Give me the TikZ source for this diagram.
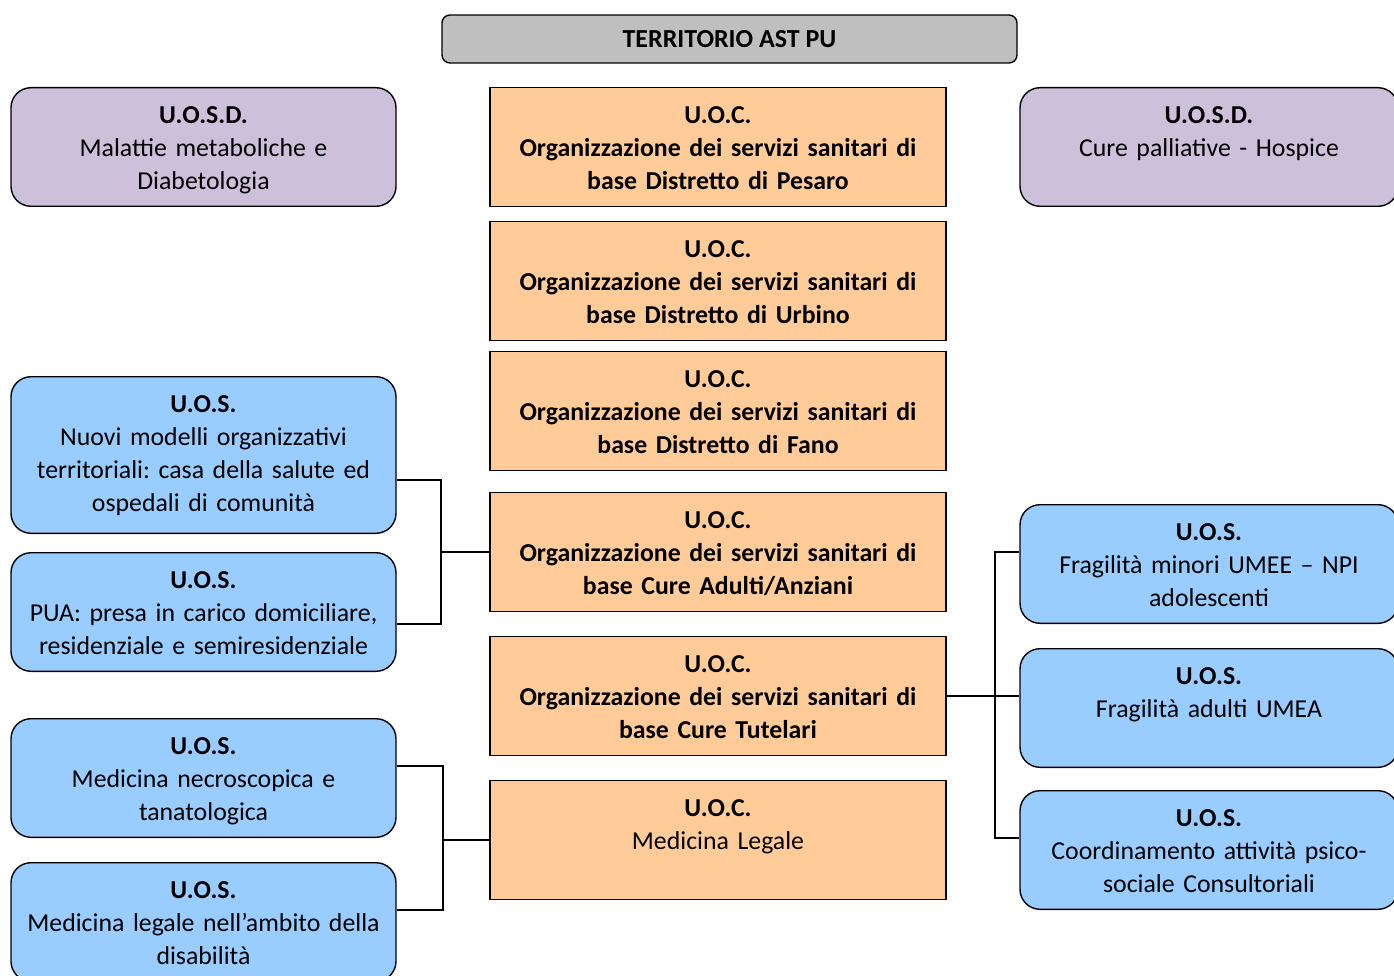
\documentclass[tikz,border=0pt]{standalone}
\usepackage{fontspec}
\setmainfont{Carlito}
\usetikzlibrary{positioning}
\definecolor{uocfill}{HTML}{FFCC99}
\definecolor{uosfill}{HTML}{99CCFF}
\definecolor{uosdfill}{HTML}{CCC0DA}
\definecolor{titlefill}{HTML}{BFBFBF}
\tikzstyle{unit}=[draw=black, line width=1.4pt, align=center, inner xsep=4pt, inner ysep=0pt, text height=36pt, text depth=82.6pt, font=\fontsize{25.8}{33}\selectfont]
\tikzstyle{uoc}=[unit, fill=uocfill, text width=448pt]
\tikzstyle{uos}=[unit, fill=uosfill, rounded corners=20pt, text width=377pt]
\tikzstyle{uosd}=[unit, fill=uosdfill, rounded corners=20pt, text width=377pt]
\tikzstyle{link}=[line width=1.4pt]
\newcommand{\sigla}[1]{\textbf{#1}}
\frenchspacing

\begin{document}
\begin{tikzpicture}[x=1pt, y=-1pt]
    \useasboundingbox (0,0) rectangle (1394,976);

    % title
    \node[draw, fill=titlefill, rounded corners=8pt, line width=1.4pt, minimum width=575pt, minimum height=48pt, font=\bfseries\fontsize{26}{30}\selectfont] (title) at (729.5,39) {TERRITORIO AST PU};

    % central column
    \node[uoc, anchor=north] (uocPes) at (718,87) {\sigla{U.O.C.}\\ \textbf{Organizzazione dei servizi sanitari di}\\ \textbf{base Distretto di Pesaro}};
    \node[uoc, below=14pt of uocPes] (uocUrb) {\sigla{U.O.C.}\\ \textbf{Organizzazione dei servizi sanitari di}\\ \textbf{base Distretto di Urbino}};
    \node[uoc, below=10pt of uocUrb] (uocFano) {\sigla{U.O.C.}\\ \textbf{Organizzazione dei servizi sanitari di}\\ \textbf{base Distretto di Fano}};
    \node[uoc, below=21pt of uocFano] (uocAdulti) {\sigla{U.O.C.}\\ \textbf{Organizzazione dei servizi sanitari di}\\ \textbf{base Cure Adulti/Anziani}};
    \node[uoc, below=24pt of uocAdulti] (uocTut) {\sigla{U.O.C.}\\ \textbf{Organizzazione dei servizi sanitari di}\\ \textbf{base Cure Tutelari}};
    \node[uoc, below=24pt of uocTut] (uocLegale) {\sigla{U.O.C.}\\ Medicina Legale};

    % left column
    \node[uosd, anchor=north] (uosdMet) at (203.5,87) {\sigla{U.O.S.D.}\\ Malattie metaboliche e\\ Diabetologia};
    \node[uos, anchor=north, text depth=120.6pt] (uosCasa) at (203.5,376) {\sigla{U.O.S.}\\ Nuovi modelli organizzativi\\ territoriali: casa della salute ed\\ ospedali di comunità};
    \node[uos, below=18pt of uosCasa] (uosPua) {\sigla{U.O.S.}\\ PUA: presa in carico domiciliare,\\ residenziale e semiresidenziale};
    \node[uos, below=46pt of uosPua] (uosNecro) {\sigla{U.O.S.}\\ Medicina necroscopica e\\ tanatologica};
    \node[uos, below=24pt of uosNecro] (uosDisab) {\sigla{U.O.S.}\\ Medicina legale nell’ambito della\\ disabilità};

    % right column
    \node[uosd, anchor=north, text width=370pt] (uosdCure) at (1209,87) {\sigla{U.O.S.D.}\\ Cure palliative - Hospice};
    \node[uos, anchor=north, text width=370pt] (uosMinori) at (1209,504) {\sigla{U.O.S.}\\ Fragilità minori UMEE – NPI\\ adolescenti};
    \node[uos, below=24pt of uosMinori, text width=370pt] (uosAdulti) {\sigla{U.O.S.}\\ Fragilità adulti UMEA};
    \node[uos, below=22pt of uosAdulti, text width=370pt] (uosPsico) {\sigla{U.O.S.}\\ Coordinamento attività psico-\\ sociale Consultoriali};

    % connectors
    \coordinate (busCasa) at (uocAdulti.west -| 441,0);
    \coordinate (busLegale) at (uocLegale.west -| 443,0);
    \coordinate (busTut) at (uocTut.east -| 995,0);

    \draw[link] ([yshift=-25pt]uosCasa.east) -| (busCasa) |- ([yshift=-12pt]uosPua.east);
    \draw[link] (busCasa) -- (uocAdulti.west);

    \draw[link] ([yshift=12pt]uosNecro.east) -| (busLegale) |- ([yshift=12pt]uosDisab.east);
    \draw[link] (busLegale) -- (uocLegale.west);

    \draw[link] ([yshift=12pt]uosMinori.west) -| (busTut) |- ([yshift=12pt]uosPsico.west);
    \draw[link] (uocTut.east) -- (uosAdulti.west |- uocTut.east);
\end{tikzpicture}
\end{document}
